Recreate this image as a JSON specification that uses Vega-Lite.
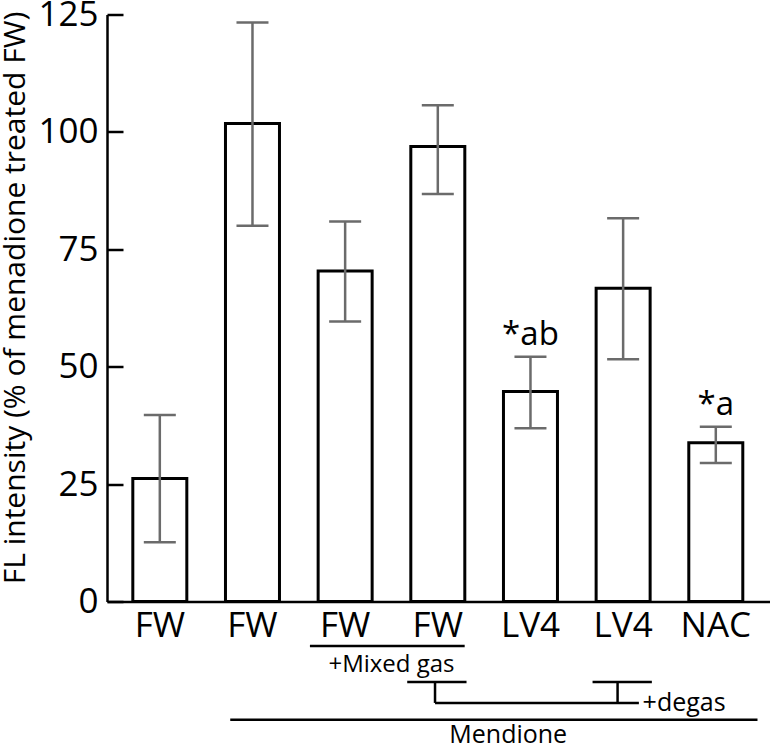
{
  "$schema": "https://vega.github.io/schema/vega-lite/v6.json",
  "autosize": {"type": "none"},
  "padding": {"left": 107, "top": 14.5, "right": 0, "bottom": 144.5},
  "width": 663,
  "height": 587,
  "config": {
    "view": {"stroke": null},
    "font": "Open Sans",
    "text": {"font": "Open Sans", "color": "black"}
  },
  "data": {
    "values": [
      {"idx": 1, "label": "FW", "mean": 26.2, "lo": 12.6, "hi": 39.7},
      {"idx": 2, "label": "FW", "mean": 101.8, "lo": 80.0, "hi": 123.3},
      {"idx": 3, "label": "FW", "mean": 70.4, "lo": 59.6, "hi": 80.9},
      {"idx": 4, "label": "FW", "mean": 96.9, "lo": 86.8, "hi": 105.7},
      {"idx": 5, "label": "LV4", "mean": 44.7, "lo": 36.9, "hi": 52.1, "sig": "*ab"},
      {"idx": 6, "label": "LV4", "mean": 66.7, "lo": 51.6, "hi": 81.6},
      {"idx": 7, "label": "NAC", "mean": 33.8, "lo": 29.5, "hi": 37.2, "sig": "*a"}
    ]
  },
  "layer": [
    {
      "mark": {"type": "bar", "width": 54, "fill": "white", "stroke": "black", "strokeWidth": 3},
      "encoding": {
        "x": {
          "field": "idx", "type": "quantitative",
          "scale": {"domain": [0.484, 7.531], "nice": false, "zero": false},
          "axis": {"labels": false, "ticks": false, "grid": false, "title": null, "domainColor": "black", "domainWidth": 2.5}
        },
        "y": {
          "field": "mean", "type": "quantitative",
          "scale": {"domain": [0, 125], "nice": false},
          "axis": {
            "values": [0, 25, 50, 75, 100, 125],
            "grid": false,
            "title": "FL intensity  (% of menadione treated FW)",
            "titleFont": "Open Sans",
            "titleFontSize": 30,
            "titleFontWeight": "normal",
            "titleColor": "black",
            "titlePadding": 7,
            "titleY": 283,
            "labelFont": "Open Sans",
            "labelFontSize": 35,
            "labelColor": "black",
            "labelPadding": 25,
            "tickSize": -16,
            "tickWidth": 2.5,
            "tickColor": "black",
            "domainColor": "black",
            "domainWidth": 2.5
          }
        }
      }
    },
    {
      "mark": {"type": "rule", "color": "#6b6b6b", "strokeWidth": 2.5},
      "encoding": {
        "x": {"field": "idx", "type": "quantitative"},
        "y": {"field": "lo", "type": "quantitative"},
        "y2": {"field": "hi"}
      }
    },
    {
      "mark": {"type": "tick", "orient": "horizontal", "size": 32, "thickness": 2.5, "color": "#6b6b6b", "opacity": 1},
      "encoding": {
        "x": {"field": "idx", "type": "quantitative"},
        "y": {"field": "lo", "type": "quantitative"}
      }
    },
    {
      "mark": {"type": "tick", "orient": "horizontal", "size": 32, "thickness": 2.5, "color": "#6b6b6b", "opacity": 1},
      "encoding": {
        "x": {"field": "idx", "type": "quantitative"},
        "y": {"field": "hi", "type": "quantitative"}
      }
    },
    {
      "transform": [{"filter": "datum.sig != null"}],
      "mark": {"type": "text", "fontSize": 33, "baseline": "alphabetic", "align": "center", "dy": -12},
      "encoding": {
        "x": {"field": "idx", "type": "quantitative"},
        "y": {"field": "hi", "type": "quantitative"},
        "text": {"field": "sig"}
      }
    },
    {
      "mark": {"type": "text", "fontSize": 35, "baseline": "alphabetic", "align": "center", "dy": 35},
      "encoding": {
        "x": {"field": "idx", "type": "quantitative"},
        "y": {"datum": 0, "type": "quantitative"},
        "text": {"field": "label"}
      }
    },
    {
      "data": {"values": [{}]},
      "layer": [
        {"mark": {"type": "rule", "color": "black", "strokeWidth": 2.5},
         "encoding": {"x": {"datum": 2.62, "type": "quantitative"}, "x2": {"datum": 4.29}, "y": {"datum": -9.48, "type": "quantitative"}}},
        {"mark": {"type": "rule", "color": "black", "strokeWidth": 2.5},
         "encoding": {"x": {"datum": 3.67, "type": "quantitative"}, "x2": {"datum": 4.31}, "y": {"datum": -17.14, "type": "quantitative"}}},
        {"mark": {"type": "rule", "color": "black", "strokeWidth": 2.5},
         "encoding": {"x": {"datum": 3.97, "type": "quantitative"}, "y": {"datum": -17.14, "type": "quantitative"}, "y2": {"datum": -21.6}}},
        {"mark": {"type": "rule", "color": "black", "strokeWidth": 2.5},
         "encoding": {"x": {"datum": 3.97, "type": "quantitative"}, "x2": {"datum": 6.17}, "y": {"datum": -21.6, "type": "quantitative"}}},
        {"mark": {"type": "rule", "color": "black", "strokeWidth": 2.5},
         "encoding": {"x": {"datum": 5.94, "type": "quantitative"}, "y": {"datum": -17.14, "type": "quantitative"}, "y2": {"datum": -21.6}}},
        {"mark": {"type": "rule", "color": "black", "strokeWidth": 2.5},
         "encoding": {"x": {"datum": 5.67, "type": "quantitative"}, "x2": {"datum": 6.31}, "y": {"datum": -17.14, "type": "quantitative"}}},
        {"mark": {"type": "rule", "color": "black", "strokeWidth": 2.5},
         "encoding": {"x": {"datum": 1.76, "type": "quantitative"}, "x2": {"datum": 7.45}, "y": {"datum": -25.2, "type": "quantitative"}}},
        {"mark": {"type": "text", "fontSize": 24, "baseline": "alphabetic", "align": "center"},
         "encoding": {"x": {"datum": 3.5, "type": "quantitative"}, "y": {"datum": -15.0, "type": "quantitative"}, "text": {"value": "+Mixed gas"}}},
        {"mark": {"type": "text", "fontSize": 25, "baseline": "alphabetic", "align": "left"},
         "encoding": {"x": {"datum": 6.21, "type": "quantitative"}, "y": {"datum": -23.3, "type": "quantitative"}, "text": {"value": "+degas"}}},
        {"mark": {"type": "text", "fontSize": 25, "baseline": "alphabetic", "align": "center"},
         "encoding": {"x": {"datum": 4.76, "type": "quantitative"}, "y": {"datum": -30.2, "type": "quantitative"}, "text": {"value": "Mendione"}}}
      ]
    }
  ]
}
